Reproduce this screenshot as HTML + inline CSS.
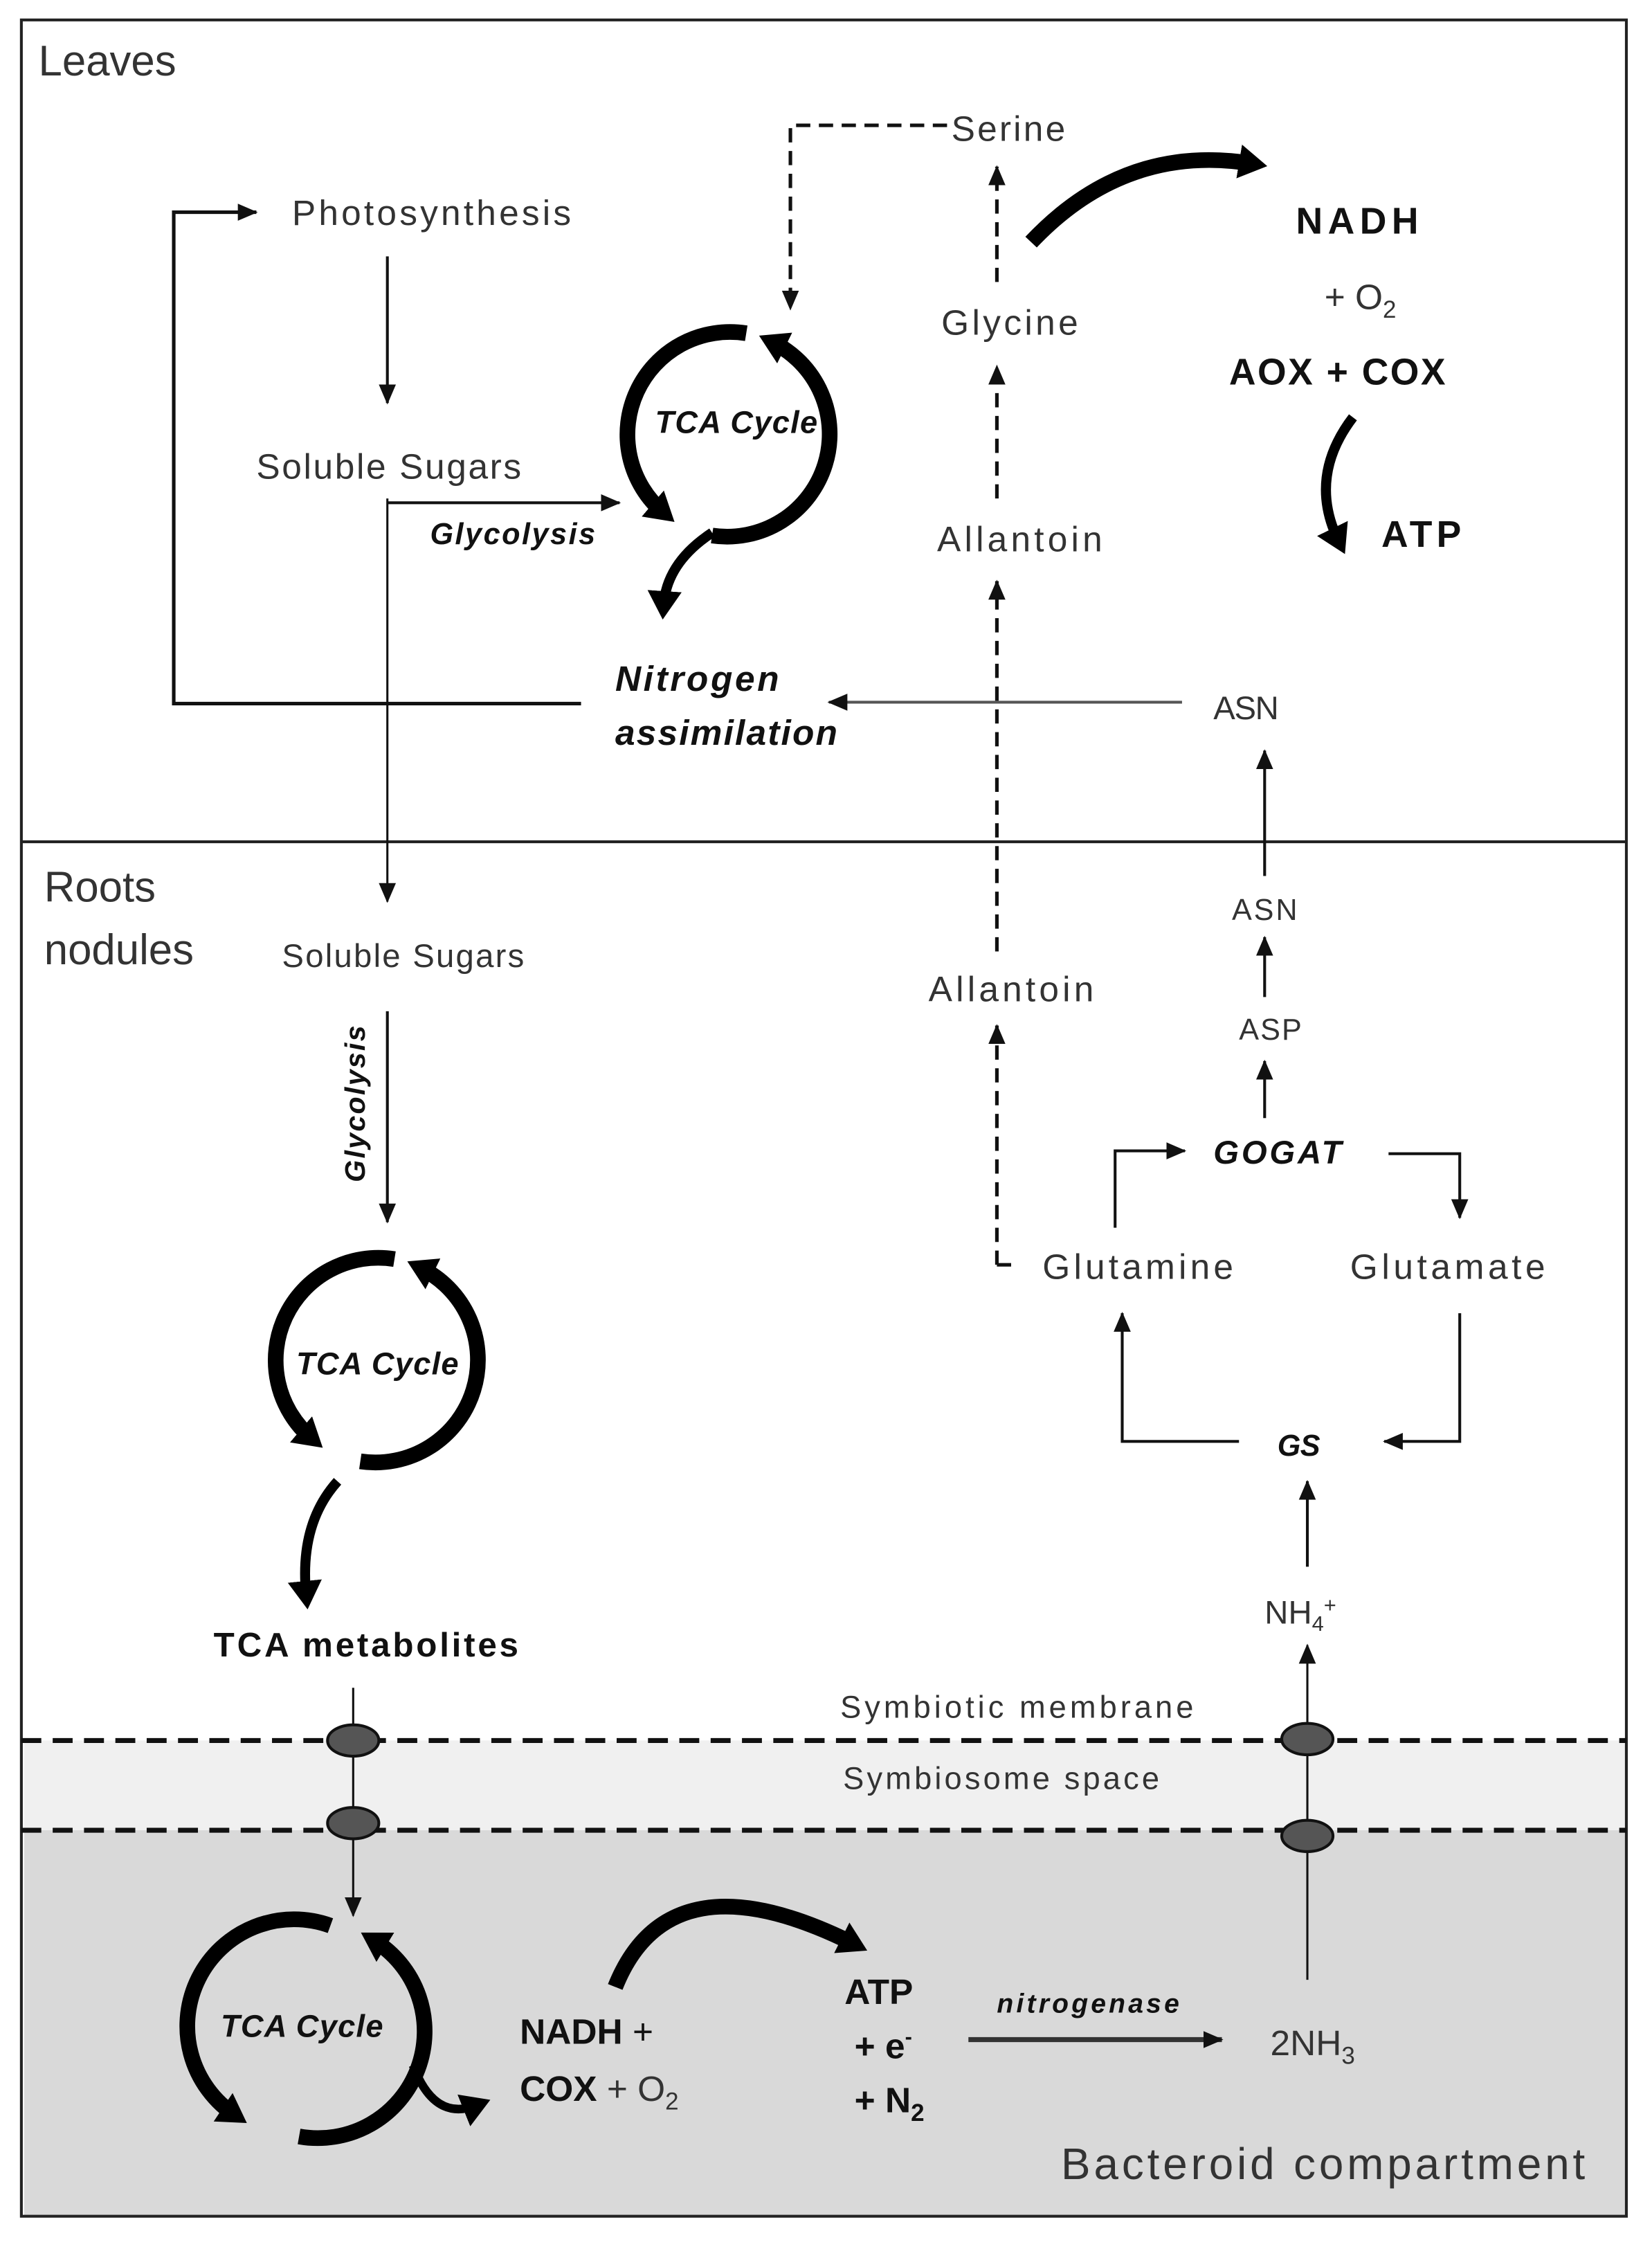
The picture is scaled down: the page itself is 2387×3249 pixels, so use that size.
<!DOCTYPE html>
<html><head><meta charset="utf-8"><style>
html,body{margin:0;padding:0;background:#fff;}
svg{display:block;}
text{font-family:"Liberation Sans",sans-serif;fill:#333;}
.b{font-weight:bold;fill:#111;}
.bi{font-weight:bold;font-style:italic;fill:#111;}
</style></head><body>
<svg width="2387" height="3249" viewBox="0 0 1160 1579" preserveAspectRatio="none" xmlns="http://www.w3.org/2000/svg">
<defs>
<marker id="ah" markerUnits="userSpaceOnUse" markerWidth="16" markerHeight="16" refX="13" refY="8" orient="auto"><path d="M0,2 L14,8 L0,14 Z" fill="#111"/></marker>
<marker id="bh" markerUnits="userSpaceOnUse" markerWidth="30" markerHeight="30" refX="10" refY="15" orient="auto"><path d="M0,3 L20,15 L0,27 Z" fill="#000"/></marker>
</defs>
<rect x="0" y="0" width="1160" height="1579" fill="#fff"/>
<rect x="17" y="1222" width="1125" height="63" fill="#f0f0f0"/>
<rect x="17" y="1285" width="1125" height="271" fill="#d9d9d9"/>
<rect x="15" y="14" width="1127" height="1542" fill="none" stroke="#222" stroke-width="2"/>
<line x1="15" y1="591" x2="1142" y2="591" stroke="#222" stroke-width="2"/>
<g stroke="#111" stroke-width="3.5" stroke-dasharray="14 8">
<line x1="15" y1="1222" x2="1142" y2="1222"/>
<line x1="15" y1="1285" x2="1142" y2="1285"/>
</g>

<!-- Leaves texts -->
<text x="27" y="53" font-size="30">Leaves</text>
<text x="668" y="99" font-size="25" textLength="80">Serine</text>
<text x="205" y="158" font-size="25" textLength="196">Photosynthesis</text>
<text x="180" y="336" font-size="25" textLength="186">Soluble Sugars</text>
<text x="302" y="382" font-size="21" class="bi" textLength="116">Glycolysis</text>
<text x="517" y="304" font-size="22" class="bi" text-anchor="middle" textLength="114">TCA Cycle</text>
<text x="432" y="485" font-size="25" class="bi" textLength="115">Nitrogen</text>
<text x="432" y="523" font-size="25" class="bi" textLength="156">assimilation</text>
<text x="661" y="235" font-size="25" textLength="96">Glycine</text>
<text x="658" y="387" font-size="25" textLength="116">Allantoin</text>
<text x="852" y="505" font-size="23" textLength="46">ASN</text>
<text x="910" y="164" font-size="26" class="b" textLength="86">NADH</text>
<text x="930" y="217" font-size="25">+ O<tspan font-size="17" dy="6">2</tspan></text>
<text x="863" y="270" font-size="26" class="b" textLength="152">AOX + COX</text>
<text x="970" y="384" font-size="26" class="b" textLength="56">ATP</text>

<!-- Leaves connectors -->
<g stroke="#111" stroke-width="2" fill="none">
<polyline points="408,494 122,494 122,149 180,149" stroke-width="2.5" marker-end="url(#ah)"/>
<line x1="272" y1="180" x2="272" y2="283" marker-end="url(#ah)"/>
<line x1="272" y1="350" x2="272" y2="633" stroke-width="1.5" marker-end="url(#ah)"/>
<line x1="272" y1="353" x2="435" y2="353" marker-end="url(#ah)"/>
<line x1="830" y1="493" x2="582" y2="493" stroke="#555" marker-end="url(#ah)"/>
<line x1="888" y1="615" x2="888" y2="527" marker-end="url(#ah)"/>
</g>
<g stroke="#111" stroke-width="2.5" fill="none" stroke-dasharray="10 6">
<polyline points="665,88 555,88 555,217" marker-end="url(#ah)"/>
<line x1="700" y1="888" x2="700" y2="720" marker-end="url(#ah)"/>
<line x1="700" y1="668" x2="700" y2="408" marker-end="url(#ah)"/>
<line x1="700" y1="350" x2="700" y2="257" marker-end="url(#ah)"/>
<line x1="700" y1="198" x2="700" y2="117" marker-end="url(#ah)"/>
</g>
<line x1="700" y1="888" x2="710" y2="888" stroke="#111" stroke-width="2.5"/>

<!-- TCA 1 -->
<g stroke="#000" stroke-width="11" fill="none">
<path d="M524,234 A72,72 0 0 0 466,360" marker-end="url(#bh)"/>
<path d="M500,376 A72,72 0 0 0 542,240" marker-end="url(#bh)"/>
<path d="M500,374 Q468,395 466,425" stroke-width="7" marker-end="url(#bh)"/>
<path d="M724,170 Q790,100 880,115" stroke-width="11" marker-end="url(#bh)"/>
<path d="M950,293 Q918,335 940,380" stroke-width="7" marker-end="url(#bh)"/>
</g>

<!-- Roots -->
<text x="31" y="633" font-size="30">Roots</text>
<text x="31" y="677" font-size="30">nodules</text>
<text x="198" y="679" font-size="23" textLength="170">Soluble Sugars</text>
<text transform="translate(256,775) rotate(-90)" font-size="20" class="bi" text-anchor="middle" textLength="110">Glycolysis</text>
<text x="265" y="965" font-size="22" class="bi" text-anchor="middle" textLength="114">TCA Cycle</text>
<text x="150" y="1163" font-size="24" class="b" textLength="214">TCA metabolites</text>
<text x="652" y="703" font-size="25" textLength="116">Allantoin</text>
<text x="865" y="646" font-size="21" textLength="46">ASN</text>
<text x="870" y="730" font-size="21" textLength="44">ASP</text>
<text x="852" y="817" font-size="23" class="bi" textLength="90">GOGAT</text>
<text x="732" y="898" font-size="25" textLength="134">Glutamine</text>
<text x="948" y="898" font-size="25" textLength="137">Glutamate</text>
<text x="897" y="1022" font-size="21" class="bi" textLength="30">GS</text>
<text x="888" y="1140" font-size="23">NH<tspan font-size="15" dy="5">4</tspan><tspan font-size="15" dy="-13">+</tspan></text>
<text x="590" y="1206" font-size="22" textLength="248">Symbiotic membrane</text>
<text x="592" y="1256" font-size="22" textLength="222">Symbiosome space</text>

<g stroke="#111" stroke-width="2" fill="none">
<line x1="272" y1="710" x2="272" y2="858" marker-end="url(#ah)"/>
<line x1="888" y1="700" x2="888" y2="658" marker-end="url(#ah)"/>
<line x1="888" y1="785" x2="888" y2="745" marker-end="url(#ah)"/>
<polyline points="783,862 783,808 832,808" marker-end="url(#ah)"/>
<polyline points="975,810 1025,810 1025,855" marker-end="url(#ah)"/>
<polyline points="870,1012 788,1012 788,922" marker-end="url(#ah)"/>
<polyline points="1025,922 1025,1012 972,1012" marker-end="url(#ah)"/>
<line x1="918" y1="1100" x2="918" y2="1040" marker-end="url(#ah)"/>
<line x1="918" y1="1390" x2="918" y2="1155" stroke-width="1.5" marker-end="url(#ah)"/>
<line x1="248" y1="1185" x2="248" y2="1345" stroke-width="1.5" marker-end="url(#ah)"/>
</g>
<g fill="#555" stroke="#111" stroke-width="2">
<ellipse cx="248" cy="1222" rx="18" ry="11"/>
<ellipse cx="248" cy="1280" rx="18" ry="11"/>
<ellipse cx="918" cy="1221" rx="18" ry="11"/>
<ellipse cx="918" cy="1289" rx="18" ry="11"/>
</g>

<!-- TCA 2 -->
<g stroke="#000" stroke-width="11" fill="none">
<path d="M277,884 A72,72 0 0 0 219,1010" marker-end="url(#bh)"/>
<path d="M253,1026 A72,72 0 0 0 295,890" marker-end="url(#bh)"/>
<path d="M237,1040 Q210,1070 215,1120" stroke-width="7" marker-end="url(#bh)"/>
</g>

<!-- Bacteroid -->
<text x="212" y="1430" font-size="22" class="bi" text-anchor="middle" textLength="114">TCA Cycle</text>
<text x="365" y="1435" font-size="25" class="b">NADH <tspan font-weight="normal">+</tspan></text>
<text x="365" y="1475" font-size="25"><tspan class="b">COX</tspan> + O<tspan font-size="17" dy="6">2</tspan></text>
<text x="593" y="1407" font-size="25" class="b">ATP</text>
<text x="600" y="1445" font-size="25" class="b">+ e<tspan font-size="15" dy="-10">-</tspan></text>
<text x="600" y="1483" font-size="25" class="b">+ N<tspan font-size="17" dy="6">2</tspan></text>
<text x="700" y="1413" font-size="19" class="bi" textLength="128">nitrogenase</text>
<text x="892" y="1443" font-size="25">2NH<tspan font-size="17" dy="6">3</tspan></text>
<text x="745" y="1530" font-size="31" fill="#111" textLength="368">Bacteroid compartment</text>
<line x1="680" y1="1432" x2="858" y2="1432" stroke="#333" stroke-width="3.5" marker-end="url(#ah)"/>
<g stroke="#000" stroke-width="11" fill="none">
<path d="M232,1352 A75,75 0 0 0 165,1485" marker-end="url(#bh)"/>
<path d="M210,1500 A75,75 0 0 0 262,1362" marker-end="url(#bh)"/>
<path d="M290,1450 Q305,1490 335,1478" stroke-width="6" marker-end="url(#bh)"/>
<path d="M432,1395 Q470,1300 600,1365" stroke-width="11" marker-end="url(#bh)"/>
</g>
</svg>
</body></html>
